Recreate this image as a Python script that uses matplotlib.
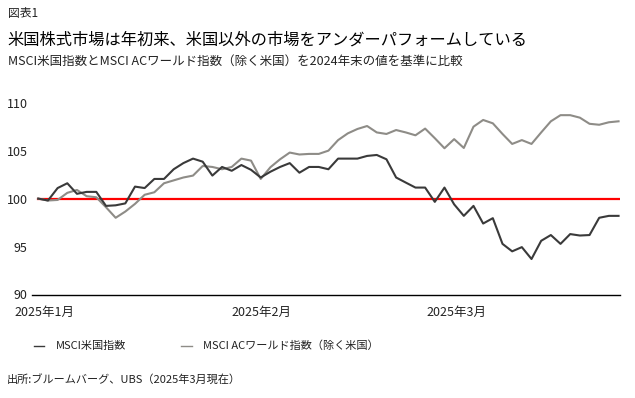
import matplotlib
matplotlib.use("Agg")
import matplotlib.pyplot as plt
from matplotlib.lines import Line2D
import numpy as np

plt.rcParams['font.family'] = ['Noto Sans CJK JP', 'DejaVu Sans']

# daily index values, end of 2024 = 100
us = [100.0, 99.8, 101.1, 101.6, 100.5, 100.7, 100.7, 99.24, 99.3, 99.5,
      101.25, 101.1, 102.05, 102.05, 103.06, 103.7, 104.17, 103.85, 102.4, 103.3,
      102.9, 103.5, 103.0, 102.2, 102.8, 103.3, 103.7, 102.7, 103.3, 103.3,
      103.06, 104.17, 104.17, 104.17, 104.45, 104.55, 104.1, 102.2, 101.67, 101.15,
      101.15, 99.66, 101.15, 99.4, 98.2, 99.24, 97.4, 97.96, 95.28, 94.5,
      94.94, 93.7, 95.6, 96.2, 95.28, 96.3, 96.15, 96.2, 98.0, 98.2, 98.2]
world_ex_us = [100.0, 99.8, 99.86, 100.6, 100.9, 100.25, 100.14, 99.1, 98.0, 98.65,
               99.45, 100.4, 100.66, 101.6, 101.9, 102.2, 102.4, 103.4, 103.3, 103.06,
               103.3, 104.17, 103.96, 102.05, 103.27, 104.1, 104.8, 104.6, 104.66, 104.66,
               105.0, 106.1, 106.8, 107.26, 107.57, 106.9, 106.74, 107.15, 106.9, 106.6,
               107.3, 106.3, 105.25, 106.2, 105.28, 107.5, 108.2, 107.85, 106.74, 105.7,
               106.1, 105.7, 106.9, 108.06, 108.7, 108.7, 108.44, 107.8, 107.7, 107.96, 108.06]
month_ticks = [0.6, 23.1, 43.2]
month_labels = ['2025年1月', '2025年2月', '2025年3月']
y_ticks = [90, 95, 100, 105, 110]

dark = '#3a3a3a'
grey = '#8e8c87'
text_col = '#222222'

fig = plt.figure(figsize=(6.35, 3.98), dpi=100)
ax = fig.add_axes([32 / 635, 1 - 294.5 / 398, 588 / 635, 191.8 / 398])

x = np.arange(len(us))
ax.plot([x[0], x[-1]], [100, 100], color='#ff0000', lw=1.6, zorder=1)
ax.plot(x, world_ex_us, color=grey, lw=1.5, zorder=2)
ax.plot(x, us, color=dark, lw=1.5, zorder=3)

ax.set_xlim(-0.65, 60.15)
ax.set_ylim(90, 110)
ax.set_yticks(y_ticks)
ax.set_xticks(month_ticks)
ax.set_xticklabels(month_labels)
ax.tick_params(axis='y', length=0, pad=3, labelsize=9, labelcolor=text_col)
ax.tick_params(axis='x', length=0, pad=8, labelsize=9, labelcolor=text_col)
for s in ['top', 'right', 'left']:
    ax.spines[s].set_visible(False)
ax.spines['bottom'].set_color('black')
ax.spines['bottom'].set_linewidth(1.0)

# header
fig.text(8 / 635, 1 - 14 / 398, '図表1', fontsize=8.5, color=text_col, va='center')
fig.text(7 / 635, 1 - 40 / 398, '米国株式市場は年初来、米国以外の市場をアンダーパフォームしている',
         fontsize=11.7, color='black', va='center')
fig.text(8 / 635, 1 - 61 / 398, 'MSCI米国指数とMSCI ACワールド指数（除く米国）を2024年末の値を基準に比較',
         fontsize=9, color=text_col, va='center')

# legend
ly = 1 - 346 / 398
fig.add_artist(Line2D([34 / 635, 44 / 635], [ly, ly], color=dark, lw=1.0))
fig.text(56 / 635, ly, 'MSCI米国指数', fontsize=8, color=text_col, va='center')
fig.add_artist(Line2D([181 / 635, 192 / 635], [ly, ly], color=grey, lw=1.0))
fig.text(203 / 635, ly, 'MSCI ACワールド指数（除く米国）', fontsize=8, color=text_col, va='center')

# source
fig.text(7 / 635, 1 - 379 / 398, '出所:ブルームバーグ、UBS（2025年3月現在）',
         fontsize=8, color=text_col, va='center')

fig.savefig('out.png', dpi=100, facecolor='white')
